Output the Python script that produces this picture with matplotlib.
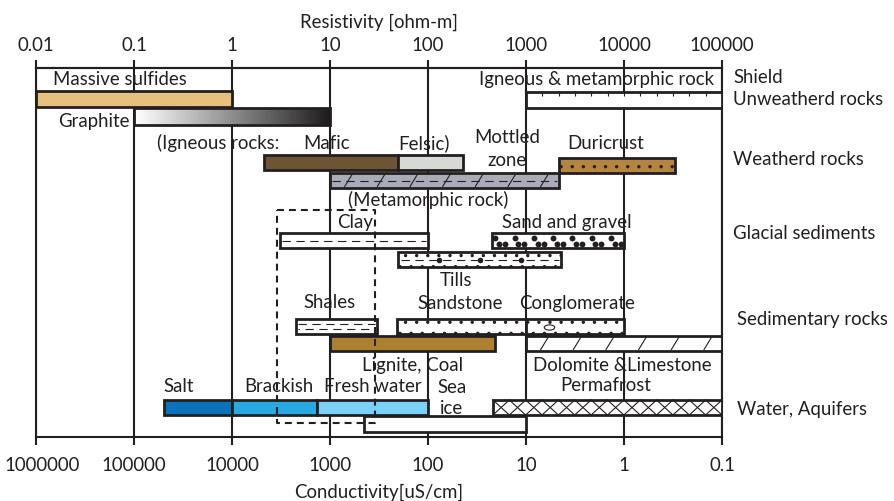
import matplotlib.pyplot as plt
import numpy as np
from matplotlib.colors import LinearSegmentedColormap
from matplotlib.path import Path
from matplotlib.transforms import Affine2D, ScaledTranslation

plt.rcParams['font.family'] = ['Lato', 'DejaVu Sans']
plt.rcParams['hatch.linewidth'] = 0.4
plt.rcParams['lines.scale_dashes'] = False

INK = '#231f20'
FS = 6.7

# axis ticks: resistivity on top, conductivity [uS/cm] = 10000 / resistivity below
res_ticks = [0.01, 0.1, 1, 10, 100, 1000, 10000, 100000]
res_labels = ['0.01', '0.1', '1', '10', '100', '1000', '10000', '100000']
cond_labels = ['1000000', '100000', '10000', '1000', '100', '10', '1', '0.1']

# resistivity ranges [ohm-m]
materials = ['Massive sulfides', 'Unweathered rock', 'Graphite', 'Mafic', 'Felsic',
             'Duricrust', 'Metamorphic rock', 'Clay', 'Sand and gravel', 'Tills',
             'Shales', 'Sandstone', 'Conglomerate', 'Lignite, Coal',
             'Dolomite & Limestone', 'Salt', 'Brackish', 'Fresh water',
             'Permafrost', 'Sea ice']
res_low = [0.01, 1000, 0.1, 2.1, 50, 2150, 10, 3.1, 450, 50,
           4.5, 48, 1000, 10, 1000, 0.2, 1, 7.3, 460, 22]
res_high = [1, 100000, 10, 50, 230, 33000, 2150, 100, 10000, 2300,
            30, 1000, 10000, 480, 100000, 1, 7.3, 100, 100000, 1000]
clay_weathered = (2.9, 29)  # dashed envelope

# layout: vertical placement of every bar (picture units, top / bottom)
row_top = [91, 92, 108, 155, 155, 158, 173, 233, 233, 252,
           319, 319, 319, 336, 336, 400, 400, 400, 400, 416]
row_bot = [107, 108, 125, 170, 170, 173, 188, 248, 248, 267,
           334, 334, 334, 351, 351, 415, 415, 415, 415, 432]
fills = ['#e8c07d', 'white', 'none', '#6d5534', '#d6d9d4',
         '#b5843f', '#a9acb8', 'white', 'white', 'white',
         'white', 'white', 'white', '#ad7f30', 'white',
         '#0b73bb', '#29a9e1', '#79d2f5', 'white', 'white']
hatches = [None, None, None, None, None,
           '...', None, None, None, '...',
           None, '...', '...', None, None,
           None, None, None, None, None]

fig = plt.figure(figsize=(4.47, 2.505), dpi=200)
ax = fig.add_axes([36 / 894, 64 / 501, 686 / 894, 369 / 501])
ax.set_xscale('log')

for lo, hi, t, b, fc, h in zip(res_low, res_high, row_top, row_bot, fills, hatches):
    ax.barh((t + b) / 2, hi - lo, height=b - t, left=lo, color=fc, edgecolor=INK,
            linewidth=1.0, hatch=h, zorder=3)

idx = {m: i for i, m in enumerate(materials)}


def mid(i):
    return (row_top[i] + row_bot[i]) / 2


# graphite gradient
g = idx['Graphite']
cmap = LinearSegmentedColormap.from_list('graphite', ['white', '#1e1c1d'])
gx = np.geomspace(res_low[g], res_high[g], 121)
ax.pcolormesh(gx, [row_top[g], row_bot[g]], np.linspace(0, 1, 120)[None, :],
              cmap=cmap, shading='flat', zorder=2.9)

# unweathered rock tick marks
u = idx['Unweathered rock']
ax.vlines(np.geomspace(res_low[u], res_high[u], 13)[1:-1], row_top[u], row_top[u] + 4,
          color=INK, lw=0.4, zorder=4)

# steep slashes for metamorphic rock and dolomite/limestone
for name in ['Metamorphic rock', 'Dolomite & Limestone']:
    i = idx[name]
    step = 1 / 3
    for lx in np.arange(np.log10(res_low[i]) + step * 0.45, np.log10(res_high[i]) - 0.05, step):
        ax.plot([10 ** lx, 10 ** (lx + 0.075)], [row_bot[i] - 1.5, row_top[i] + 1.5],
                color=INK, lw=0.4, zorder=4)

# permafrost cross-hatch: a row of touching X's
i = idx['Permafrost']
px = np.geomspace(res_low[i], res_high[i], 15)
for a, b in zip(px[:-1], px[1:]):
    ax.plot([a, b], [row_bot[i], row_top[i]], color=INK, lw=0.4, zorder=4)
    ax.plot([a, b], [row_top[i], row_bot[i]], color=INK, lw=0.4, zorder=4)

# dashed internal lines
for name in ['Metamorphic rock', 'Clay', 'Tills']:
    i = idx[name]
    ax.hlines(mid(i), res_low[i] * 1.05, res_high[i] / 1.05,
              color=INK, lw=0.4, linestyle=(0, (3, 2)), zorder=4)
i = idx['Shales']
for off, ph in [(-2.5, 0), (2.5, 2.5)]:
    ax.hlines(mid(i) + off, res_low[i] * 1.05, res_high[i] / 1.05,
              color=INK, lw=0.4, linestyle=(ph, (3, 2)), zorder=4)

# sand and gravel pebbles
i = idx['Sand and gravel']
xs = np.geomspace(res_low[i] * 1.08, res_high[i] / 1.08, 14)
ax.scatter(xs[::2], [row_top[i] + 4.5] * len(xs[::2]), s=4.5, color=INK, lw=0, zorder=4)
ax.scatter(xs[1::2], [row_bot[i] - 4.5] * len(xs[1::2]), s=4.5, color=INK, lw=0, zorder=4)
ax.scatter(xs[::2] * 1.09, [row_bot[i] - 4.5] * len(xs[::2]), s=4.5, color=INK, lw=0, zorder=4)

# tills boulders
i = idx['Tills']
ax.scatter(np.geomspace(res_low[i], res_high[i], 5)[1:-1], [mid(i)] * 3,
           s=4, color=INK, lw=0, zorder=5)

# conglomerate pebble
i = idx['Conglomerate']
pebble = Path.unit_circle().transformed(Affine2D().scale(1.0, 0.5))
ax.scatter([res_low[i] * 1.7], [mid(i)], marker=pebble, s=14,
           facecolor='white', edgecolor=INK, lw=0.4, zorder=5)

# weathered clay envelope
cw = clay_weathered
ax.plot([cw[0], cw[1], cw[1], cw[0], cw[0]], [210, 210, 423, 423, 210],
        color=INK, lw=0.75, linestyle=(0, (2.5, 1.8)), zorder=6)

ax.set_xlim(res_ticks[0], res_ticks[-1])
ax.set_ylim(437, 68)
ax.set_yticks([])
ax.set_xticks(res_ticks, labels=cond_labels)
ax.xaxis.set_minor_locator(plt.NullLocator())
ax.grid(axis='x', color=INK, lw=0.75)
ax.set_axisbelow(True)
for s in ax.spines.values():
    s.set_color(INK)
    s.set_linewidth(0.75)
ax.tick_params(axis='x', length=3, width=0.75, color=INK, pad=4.3, labelsize=FS, labelcolor=INK)
ax.set_xlabel('Conductivity[uS/cm]', fontsize=FS, color=INK, labelpad=3.5)
first = ax.get_xticklabels()[0]
first.set_transform(first.get_transform() + ScaledTranslation(6 / 200, 0, fig.dpi_scale_trans))

top = ax.secondary_xaxis('top')
top.set_xticks(res_ticks, labels=res_labels)
top.xaxis.set_minor_locator(plt.NullLocator())
top.spines['top'].set_linewidth(0.75)
top.spines['top'].set_color(INK)
top.tick_params(axis='x', length=3, width=0.75, color=INK, pad=2.0, labelsize=FS, labelcolor=INK)
top.set_xlabel('Resistivity [ohm-m]', fontsize=FS, color=INK, labelpad=3.5)

# labels inside the chart: text, x pixel, y pixel, alignment
labels = [
    ('Massive sulfides', 53, 79, 'left'),
    ('Igneous & metamorphic rock', 714, 79, 'right'),
    ('Graphite', 130, 121, 'right'),
    ('(Igneous rocks:', 157, 143, 'left'),
    ('Mafic', 303, 143, 'left'),
    ('Felsic)', 398, 143, 'left'),
    ('Mottled', 507, 137, 'center'),
    ('zone', 507, 160, 'center'),
    ('Duricrust', 606, 143, 'center'),
    ('(Metamorphic rock)', 428, 200, 'center'),
    ('Clay', 355, 222, 'center'),
    ('Sand and gravel', 567, 222, 'center'),
    ('Tills', 456, 280, 'center'),
    ('Shales', 330, 302, 'center'),
    ('Sandstone', 460, 303, 'center'),
    ('Conglomerate', 577, 303, 'center'),
    ('Lignite, Coal', 413, 365, 'center'),
    ('Dolomite &Limestone', 622, 365, 'center'),
    ('Permafrost', 606, 385, 'center'),
    ('Salt', 179, 386, 'center'),
    ('Brackish', 279, 386, 'center'),
    ('Fresh water', 373, 386, 'center'),
    ('Sea', 452, 387, 'center'),
    ('ice', 452, 408, 'center'),
    # groups on the right
    ('Shield', 733, 77, 'left'),
    ('Unweatherd rocks', 733, 99, 'left'),
    ('Weatherd rocks', 733, 159, 'left'),
    ('Glacial sediments', 733, 233, 'left'),
    ('Sedimentary rocks', 737, 319, 'left'),
    ('Water, Aquifers', 737, 409, 'left'),
]
tr = ax.get_yaxis_transform()
for text, x, y, ha in labels:
    ax.text((x - 36) / 686, y, text, transform=tr, ha=ha, va='center', fontsize=FS,
            color=INK, zorder=7, clip_on=False)

fig.savefig('out.png', dpi=200)
